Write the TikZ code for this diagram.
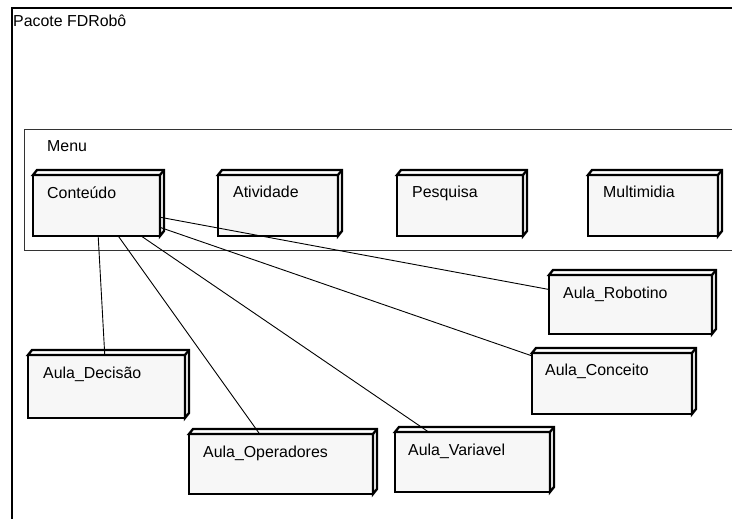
\documentclass[tikz,border=0pt]{standalone}
\usepackage{fontspec}
\setmainfont{Liberation Sans}
\usetikzlibrary{calc}

\tikzset{
  nodebox/.style={draw, line width=2.8pt, fill=gray!6, outer sep=0pt,
                  inner sep=0pt, anchor=north west},
  depthface/.style={draw, line width=2.3pt, fill=white, line join=miter},
  boxtext/.style={anchor=base west, inner sep=0pt,
                  font=\fontsize{15.9}{18}\selectfont},
  conn/.style={draw, line width=0.9pt},
  frame/.style={draw, line width=1.2pt},
  subframe/.style={draw, line width=0.8pt, black!80},
}

\begin{document}
\begin{tikzpicture}[x=1pt, y=-1pt]
  \useasboundingbox (0,0) rectangle (732,519);

  % package frame and its title
  \draw[frame] (732,8) -- (12,8) -- (12,519);
  \node[boxtext] (pkgtitle) at (13,27) {Pacote FDRobô};

  % Menu frame
  \draw[subframe] (732,129) -- (24,129) -- (24,250) -- (732,250);
  \node[boxtext] (menutitle) at (47,151) {Menu};

  % front faces of the 3D nodes
  \node[nodebox, minimum width=127, minimum height=61] (cont) at (33,175) {};
  \node[nodebox, minimum width=120, minimum height=61] (ativ) at (218,175) {};
  \node[nodebox, minimum width=126, minimum height=61] (pesq) at (397,175) {};
  \node[nodebox, minimum width=130, minimum height=61] (mult) at (588,175) {};
  \node[nodebox, minimum width=163, minimum height=59] (robo) at (549,275) {};
  \node[nodebox, minimum width=160, minimum height=61] (conc) at (532,353) {};
  \node[nodebox, minimum width=157, minimum height=63] (deci) at (28,355) {};
  \node[nodebox, minimum width=184, minimum height=60] (oper) at (189,434) {};
  \node[nodebox, minimum width=155, minimum height=60] (vari) at (395,432) {};

  % top and right faces giving the depth
  \foreach \n in {cont,ativ,pesq,mult,robo,conc,deci,oper,vari} {
    \draw[depthface] (\n.north west) -- ++(4,-5)
      -- ($(\n.north east)+(4,-5)$) -- ($(\n.south east)+(4,-5)$)
      -- (\n.south east) -- (\n.north east) -- cycle;
    \draw[depthface] (\n.north east) -- ++(4,-5);
  }

  % node names
  \node[boxtext] (cont-t) at ($(cont.north west)+(14,23)$) {Conteúdo};
  \node[boxtext] (ativ-t) at ($(ativ.north west)+(15,22)$) {Atividade};
  \node[boxtext] (pesq-t) at ($(pesq.north west)+(15,22)$) {Pesquisa};
  \node[boxtext] (mult-t) at ($(mult.north west)+(15,22)$) {Multimidia};
  \node[boxtext] (robo-t) at ($(robo.north west)+(14,23)$) {Aula\_Robotino};
  \node[boxtext] (conc-t) at ($(conc.north west)+(13,22)$) {Aula\_Conceito};
  \node[boxtext] (deci-t) at ($(deci.north west)+(15,23)$) {Aula\_Decisão};
  \node[boxtext] (oper-t) at ($(oper.north west)+(14,23)$) {Aula\_Operadores};
  \node[boxtext] (vari-t) at ($(vari.north west)+(13,23)$) {Aula\_Variavel};

  % connectors from Conteúdo to each lesson
  \draw[conn] (cont) -- (deci);
  \draw[conn] (cont) -- (oper);
  \draw[conn] (cont) -- (vari);
  \draw[conn] (cont) -- (conc);
  \draw[conn] (cont) -- (robo);
\end{tikzpicture}
\end{document}
